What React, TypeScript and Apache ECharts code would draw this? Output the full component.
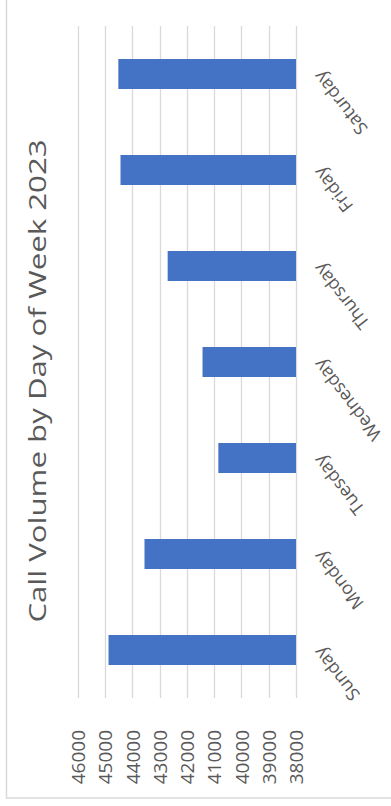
import React, { useEffect, useRef } from "react";
import * as echarts from "echarts";

// Call volume per weekday, bottom to top on the category axis
const days = ["Sunday", "Monday", "Tuesday", "Wednesday", "Thursday", "Friday", "Saturday"];
const callVolume = [44880, 43560, 40850, 41430, 42710, 44440, 44520];

// Value axis range and step
const axisMin = 38000;
const axisMax = 46000;
const axisStep = 1000;

const chartTitle = "Call Volume by Day of Week 2023";

export default function App() {
  const ref = useRef<HTMLDivElement>(null);

  useEffect(() => {
    if (!ref.current) return;
    const chart = echarts.init(ref.current, null, { renderer: "svg" });
    const font = "'Open Sans', 'Noto Sans', sans-serif";
    chart.setOption({
      animation: false,
      backgroundColor: "#ffffff",
      textStyle: { fontFamily: font },
      grid: { left: 78, right: 95, top: 26, bottom: 108, containLabel: false },
      xAxis: {
        type: "value",
        position: "bottom",
        inverse: true,
        min: axisMin,
        max: axisMax,
        interval: axisStep,
        axisLine: { show: false },
        axisTick: { show: false },
        splitLine: { show: true, lineStyle: { color: "#d9d9d9", width: 1.3 } },
        axisLabel: {
          rotate: 90,
          margin: 32,
          fontSize: 19,
          color: "#595959",
          fontFamily: font,
          formatter: (v: number) => String(v),
        },
      },
      yAxis: {
        type: "category",
        position: "right",
        data: days,
        axisLine: { show: false },
        axisTick: { show: false },
        splitLine: { show: false },
        axisLabel: {
          rotate: 128,
          margin: 21,
          fontSize: 18,
          color: "#595959",
          fontFamily: font,
        },
      },
      series: [
        {
          type: "bar",
          data: callVolume,
          barWidth: 30,
          itemStyle: { color: "#4472C4" },
        },
      ],
      graphic: [
        {
          type: "rect",
          silent: true,
          shape: { x: 6.5, y: -10, width: 400, height: 808 },
          style: { fill: "none", stroke: "#d9d9d9", lineWidth: 1.5 },
        },
        {
          type: "text",
          x: 37,
          y: 381,
          rotation: Math.PI / 2,
          scaleX: 1.3,
          style: {
            text: chartTitle,
            fontSize: 24,
            fontFamily: font,
            fill: "#595959",
            textAlign: "center",
            textVerticalAlign: "middle",
          },
        },
      ],
    });
    return () => chart.dispose();
  }, []);

  return (
    <div
      ref={ref}
      style={{ position: "fixed", left: 0, top: 0, width: 391, height: 806 }}
    />
  );
}
